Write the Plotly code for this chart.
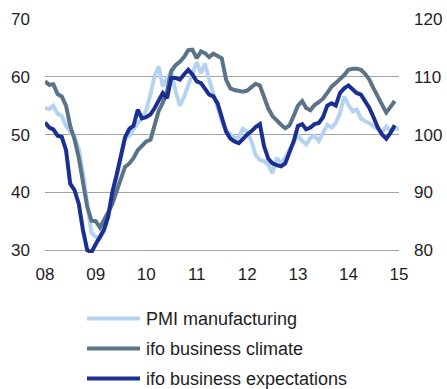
import pandas as pd
import plotly.graph_objects as go

# Monthly observations, Jan 2008 onwards
pmi_manufacturing = [
    54.6, 54.4, 55.0, 53.6, 53.2, 51.5, 50.5, 49.7, 47.5, 43.5, 38.0, 33.0,
    32.3, 32.0, 33.2, 35.5, 39.0, 42.5, 45.5, 49.3, 49.8, 51.0, 52.0, 52.8,
    54.2, 57.0, 60.0, 61.8, 58.3, 59.8, 60.8, 57.5, 55.0, 56.5, 58.5, 60.8,
    62.5, 60.6, 62.3, 59.5, 57.0, 54.5, 52.3, 50.8, 50.0, 49.3, 49.6, 51.0,
    50.4, 48.8, 46.5, 45.6, 45.4, 44.8, 43.3, 46.0, 45.0, 46.0, 47.4, 48.6,
    49.8, 48.9, 48.3, 49.4, 49.8, 48.9, 50.2, 51.7, 51.2, 52.0, 53.7, 56.6,
    55.1, 54.0, 54.3, 52.8, 52.3, 52.0, 51.4, 51.0, 50.3, 51.4, 50.6, 51.0,
    51.0,
]

ifo_business_climate = [
    109.2, 108.6, 108.7, 107.0, 106.6, 105.0, 101.5, 99.2, 96.0, 92.0, 87.5, 85.1,
    85.0, 83.9, 85.0, 86.5, 88.0, 90.0, 92.0, 94.4, 95.0, 95.9, 97.3, 98.0,
    98.8, 99.1, 101.8, 104.1, 105.5, 107.5, 111.0, 112.0, 112.6, 113.4, 114.6, 114.7,
    113.2, 114.4, 114.1, 113.4, 114.0, 113.6, 113.2, 109.5, 108.0, 107.7, 107.6, 107.4,
    107.6, 108.2, 108.8, 108.5, 106.5, 104.5, 103.2, 102.4, 101.7, 101.1, 101.6, 103.2,
    105.0, 105.8, 104.6, 104.2, 105.1, 105.6, 106.2, 107.2, 108.3, 108.9, 109.5, 110.3,
    111.2, 111.4, 111.4, 111.2, 110.5, 109.5, 108.0, 106.6, 105.1, 103.8, 104.8, 105.8,
]

ifo_business_expectations = [
    102.1, 101.2, 100.9, 99.8, 99.6, 97.3, 91.5, 90.4, 88.0, 83.5, 80.0, 79.6,
    81.0, 82.5, 83.5, 85.8, 90.0, 93.0, 96.0, 99.5, 101.0, 101.5, 104.3, 102.8,
    103.0, 103.5, 104.5, 106.0, 107.2, 106.3, 109.8, 109.8, 109.5, 110.4, 111.2, 110.4,
    109.2, 108.9, 108.0, 106.9, 106.6, 105.4, 103.0, 100.5, 99.3, 98.8, 98.5, 99.3,
    100.0, 100.6, 101.3, 101.8, 98.0, 95.8, 95.0, 94.7, 94.5, 95.0, 97.0, 98.8,
    101.5, 101.8, 100.9, 101.2, 101.8, 102.0, 103.0, 105.0, 105.4, 105.0, 107.2, 108.0,
    108.5, 107.8, 107.2, 106.9, 105.8, 104.6, 103.0, 101.2, 100.0, 99.3, 100.3, 101.6,
]

series_names = ["PMI manufacturing", "ifo business climate", "ifo business expectations"]
series_colors = ["#b5d3f1", "#5b7388", "#1b2f93"]

year_ticks = pd.date_range("2008-01-01", "2015-01-01", freq="YS")
year_labels = ["08", "09", "10", "11", "12", "13", "14", "15"]

months_pmi = pd.date_range("2008-01-01", periods=len(pmi_manufacturing), freq="MS")
months_ifo = pd.date_range("2008-01-01", periods=len(ifo_business_climate), freq="MS")

FONT = "Arial, Liberation Sans, sans-serif"
TEXT = "#1e1e1e"

fig = go.Figure()
fig.add_trace(go.Scatter(x=months_pmi, y=pmi_manufacturing, mode="lines",
                         name=series_names[0], line=dict(color=series_colors[0], width=4),
                         showlegend=False))
fig.add_trace(go.Scatter(x=months_ifo, y=ifo_business_climate, mode="lines", yaxis="y2",
                         name=series_names[1], line=dict(color=series_colors[1], width=4),
                         showlegend=False))
fig.add_trace(go.Scatter(x=months_ifo, y=ifo_business_expectations, mode="lines", yaxis="y2",
                         name=series_names[2], line=dict(color=series_colors[2], width=4),
                         showlegend=False))

# Legend drawn below the chart with long line samples
plot_left, plot_width = 45, 354
plot_top, plot_height = 19, 234
plot_bottom = plot_top + plot_height


def px_x(px):
    return (px - plot_left) / plot_width


def px_y(py):
    return (plot_bottom - py) / plot_height


shapes = []
annotations = []
for i, (name, color) in enumerate(zip(series_names, series_colors)):
    row_y = 318.5 + i * 30
    shapes.append(dict(type="line", xref="paper", yref="paper",
                       x0=px_x(87), x1=px_x(140), y0=px_y(row_y), y1=px_y(row_y),
                       line=dict(color=color, width=4)))
    annotations.append(dict(xref="paper", yref="paper", x=px_x(144), y=px_y(row_y + 0.5),
                            xanchor="left", yanchor="middle", showarrow=False, text=name,
                            font=dict(family=FONT, size=18, color=TEXT)))

fig.update_layout(
    width=447, height=389,
    margin=dict(l=plot_left, r=447 - plot_left - plot_width, t=plot_top, b=389 - plot_bottom,
                autoexpand=False),
    paper_bgcolor="white", plot_bgcolor="white",
    font=dict(family=FONT, size=17, color=TEXT),
    showlegend=False,
    xaxis=dict(range=[year_ticks[0], year_ticks[-1]], tickvals=year_ticks, ticktext=year_labels,
               showgrid=False, zeroline=False, showline=False, ticks="", automargin=False,
               ticklabelstandoff=9, tickfont=dict(size=17)),
    yaxis=dict(range=[29.5, 70], tick0=30, dtick=10, showgrid=True, gridcolor="#a3a3a3",
               gridwidth=1, zeroline=False, showline=False, ticks="", automargin=False,
               ticklabelstandoff=14, tickfont=dict(size=17)),
    yaxis2=dict(range=[79.5, 120], tick0=80, dtick=10, overlaying="y", side="right",
                showgrid=False, zeroline=False, showline=False, ticks="", automargin=False,
                ticklabelstandoff=14, tickfont=dict(size=17)),
    shapes=shapes,
    annotations=annotations,
)

fig.write_html("out.html")
